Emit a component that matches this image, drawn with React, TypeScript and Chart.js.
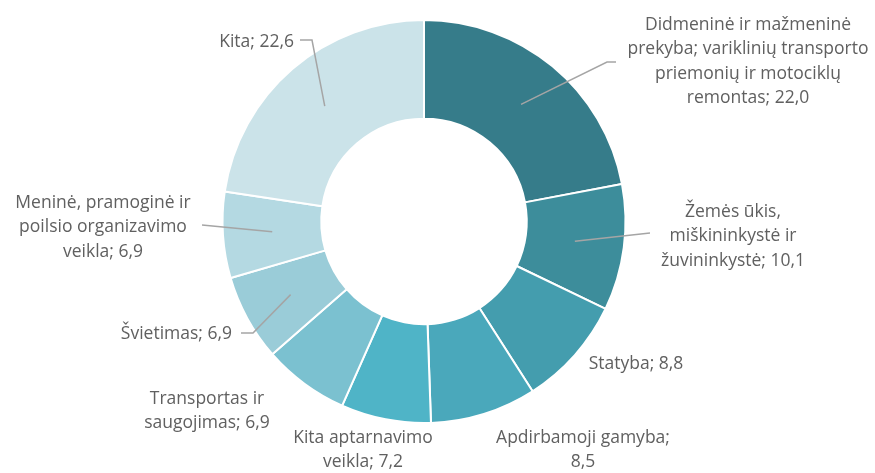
import React, { useEffect, useRef } from "react";
import { Chart, registerables } from "chart.js";

Chart.register(...registerables);

const categories: string[][] = [
  ["Didmeninė ir mažmeninė", "prekyba; variklinių transporto", "priemonių ir motociklų", "remontas; 22,0"],
  ["Žemės ūkis,", "miškininkystė ir", "žuvininkystė; 10,1"],
  ["Statyba; 8,8"],
  ["Apdirbamoji gamyba;", "8,5"],
  ["Kita aptarnavimo", "veikla; 7,2"],
  ["Transportas ir", "saugojimas; 6,9"],
  ["Švietimas; 6,9"],
  ["Meninė, pramoginė ir", "poilsio organizavimo", "veikla; 6,9"],
  ["Kita; 22,6"],
];
const values: number[] = [22.0, 10.1, 8.8, 8.5, 7.2, 6.9, 6.9, 6.9, 22.6];
const colors: string[] = [
  "#367c8a", "#3d8d9b", "#449dae", "#4aa8bb", "#4fb4c7",
  "#7bc1d0", "#9accd8", "#b4d9e2", "#cbe3e9",
];

type LabelLayout = { x: number; y: number; align: CanvasTextAlign; leader?: [number, number][] };
const layout: LabelLayout[] = [
  { x: 748, y: 25, align: "center", leader: [[607, 62], [616, 62]] },
  { x: 733, y: 212, align: "center", leader: [[650, 233]] },
  { x: 636, y: 364, align: "center" },
  { x: 583, y: 438, align: "center" },
  { x: 363, y: 438, align: "center" },
  { x: 207, y: 399, align: "center" },
  { x: 232, y: 334, align: "right", leader: [[253, 333], [241, 333]] },
  { x: 103, y: 203, align: "center", leader: [[202, 225]] },
  { x: 294, y: 42, align: "right", leader: [[312, 40], [300, 40]] },
];

const FONT = '17.5px "Open Sans", Lato, sans-serif';
const LINE_H = 24.5;

const labelPlugin = {
  id: "outLabels",
  afterDatasetsDraw(chart: any) {
    const ctx = chart.ctx as CanvasRenderingContext2D;
    const meta = chart.getDatasetMeta(0);
    ctx.save();
    meta.data.forEach((arc: any, i: number) => {
      const L = layout[i];
      if (L.leader) {
        const p = arc.tooltipPosition();
        ctx.beginPath();
        ctx.moveTo(p.x, p.y);
        L.leader.forEach(([x, y]) => ctx.lineTo(x, y));
        ctx.strokeStyle = "#a5a5a5";
        ctx.lineWidth = 1.5;
        ctx.stroke();
      }
      ctx.font = FONT;
      ctx.fillStyle = "#606060";
      ctx.textAlign = L.align;
      ctx.textBaseline = "middle";
      categories[i].forEach((line, k) => {
        ctx.fillText(line, L.x, L.y + k * LINE_H);
      });
    });
    ctx.restore();
  },
};

export default function App() {
  const ref = useRef<HTMLCanvasElement>(null);
  useEffect(() => {
    document.body.style.margin = "0";
    const chart = new Chart(ref.current!, {
      type: "doughnut",
      data: {
        labels: categories.map((c) => c.join(" ")),
        datasets: [
          {
            data: values,
            backgroundColor: colors,
            borderColor: "#ffffff",
            borderWidth: 2,
          },
        ],
      },
      options: {
        animation: false,
        responsive: false,
        cutout: "51%",
        layout: { padding: { top: 19, bottom: 49, left: 0, right: 27 } },
        plugins: {
          legend: { display: false },
          tooltip: { enabled: false },
        },
      },
      plugins: [labelPlugin],
    });
    return () => chart.destroy();
  }, []);
  return (
    <div style={{ width: 875, height: 473 }}>
      <canvas ref={ref} width={875} height={473} style={{ display: "block" }} />
    </div>
  );
}
